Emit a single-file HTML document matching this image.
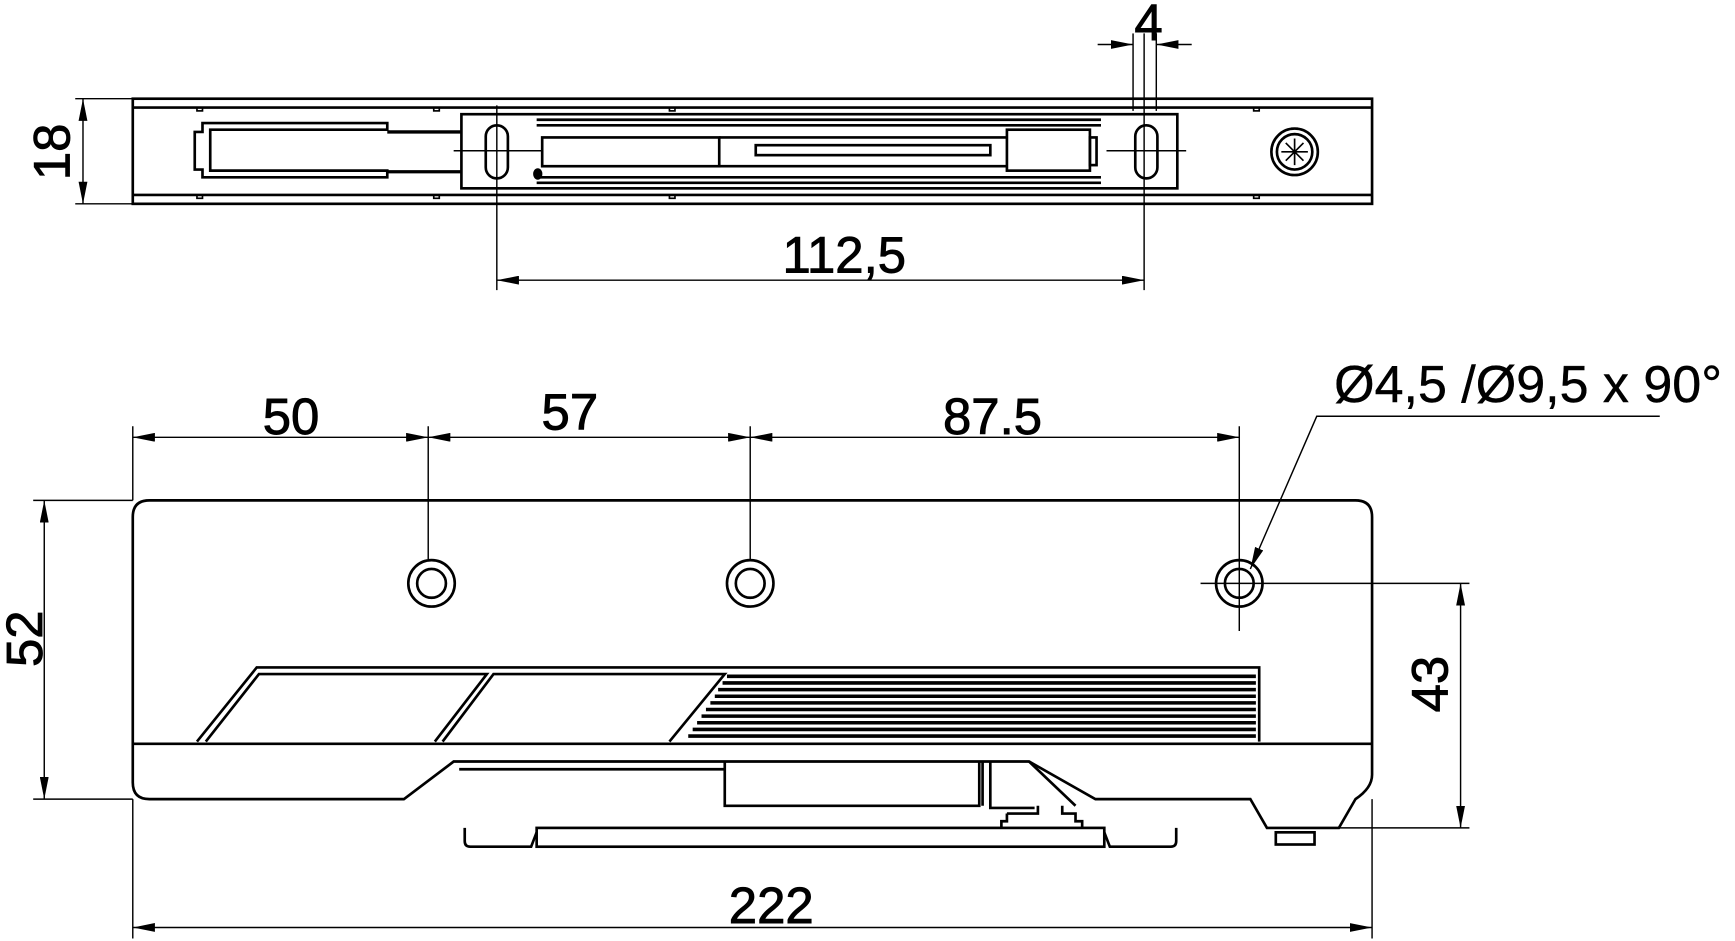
<!DOCTYPE html>
<html><head><meta charset="utf-8"><style>html,body{margin:0;padding:0;background:#fff}svg{display:block}</style></head>
<body>
<svg width="1735" height="941" viewBox="0 0 1568 850" xmlns="http://www.w3.org/2000/svg" font-family="Liberation Sans, sans-serif" fill="none" stroke="#000">
<defs>
<marker id="a" viewBox="0 0 20 8" refX="20" refY="4" markerWidth="20" markerHeight="8" orient="auto-start-reverse" markerUnits="userSpaceOnUse"><path d="M0,0 L20,4 L0,8 z" fill="#000" stroke="none"/></marker>
</defs>
<g stroke-width="2.4">
<!-- TOP VIEW -->
<rect x="120" y="89" width="1120" height="95"/>
<line x1="120" y1="97" x2="1240" y2="97"/><line x1="120" y1="176" x2="1240" y2="176"/>
<g stroke-width="1.5">
<rect x="178" y="97" width="5" height="3"/><rect x="392" y="97" width="5" height="3"/><rect x="605" y="97" width="5" height="3"/><rect x="1133" y="97" width="5" height="3"/>
<rect x="178" y="176" width="5" height="3"/><rect x="392" y="176" width="5" height="3"/><rect x="605" y="176" width="5" height="3"/><rect x="1133" y="176" width="5" height="3"/>
</g>
<path d="M183,111 H350 V117 H190 V154 H350 V160 H183 V153 H176 V119 H183 Z"/>
<line x1="350" y1="119" x2="417" y2="119" stroke-width="3"/><line x1="350" y1="155" x2="417" y2="155" stroke-width="3"/>
<rect x="417" y="103" width="647" height="67"/>
<path d="M485,108 H995 M485,113 H995 M485,165 H995 M485,160 H995"/>
<rect x="490" y="124" width="160" height="26"/><line x1="650" y1="124" x2="910" y2="124"/><line x1="650" y1="150" x2="910" y2="150"/>
<rect x="683" y="131" width="212" height="9"/>
<rect x="910" y="117" width="75" height="37"/><rect x="985" y="124" width="6" height="25"/>
<rect x="439" y="113" width="20" height="48" rx="10"/><rect x="1026" y="113" width="20" height="48" rx="10"/>
<ellipse cx="486" cy="157" rx="3" ry="4" fill="#000"/>
<circle cx="1170" cy="137" r="21"/><circle cx="1170" cy="137" r="16"/>
<path d="M1170,125 V149 M1158,137 H1182 M1162,129 L1178,145 M1178,129 L1162,145" stroke-width="1.5"/>
<g stroke-width="1.3">
<line x1="410" y1="136" x2="490" y2="136"/><line x1="1000" y1="136" x2="1072" y2="136"/>
<line x1="449" y1="95" x2="449" y2="262"/><line x1="1034" y1="30" x2="1034" y2="262"/>
<line x1="1024" y1="30" x2="1024" y2="100"/><line x1="1045" y1="30" x2="1045" y2="100"/>
<line x1="992" y1="40" x2="1024" y2="40" marker-end="url(#a)"/><line x1="1077" y1="40" x2="1045" y2="40" marker-end="url(#a)"/>
<line x1="449" y1="253" x2="1034" y2="253" marker-start="url(#a)" marker-end="url(#a)"/>
<line x1="68" y1="89" x2="120" y2="89"/><line x1="68" y1="184" x2="120" y2="184"/>
<line x1="75" y1="89" x2="75" y2="184" marker-start="url(#a)" marker-end="url(#a)"/>
</g>
<!-- BOTTOM VIEW -->
<path d="M135,452 H1225 Q1240,452 1240,467 V700 Q1240,712 1225,722 L1210,748 H1145 L1130,722 H990 L930,688 H410 L365,722 H135 Q120,722 120,707 V467 Q120,452 135,452 Z"/>
<line x1="120" y1="672" x2="1240" y2="672"/>
<path d="M415,695 H655 M655,688 V728 H885 V688 M888,688 V728 M895,688 V730 H935 M930,688 L972,728"/>
<path d="M910,735 H938 V728 M960,728 V735 H972 V742 H978 V748 M910,735 V742 H905 V748"/>
<rect x="485" y="748" width="513" height="17"/>
<path d="M420,748 V760 Q420,765 425,765 H480 L485,752 M998,752 L1003,765 H1058 Q1063,765 1063,760 V748"/>
<rect x="1153" y="752" width="35" height="11"/>
<!-- stripes -->
<path d="M178,670 L232,603 H1138 V670"/>
<path d="M186,670 L234,609 H440 L393,670 M400,670 L446,609 H655 L605,670"/>
<g stroke-width="3.2">
<path d="M657,611H1135M653,617H1135M649,623H1135M646,629H1135M642,635H1135M638,641H1135M634,647H1135M630,653H1135M626,659H1135M622,665H1135"/>
</g>
<circle cx="390" cy="527" r="21"/><circle cx="390" cy="527" r="13"/>
<circle cx="678" cy="527" r="21"/><circle cx="678" cy="527" r="13"/>
<circle cx="1120" cy="527" r="21"/><circle cx="1120" cy="527" r="13"/>
<g stroke-width="1.3">
<line x1="120" y1="385" x2="120" y2="452"/>
<line x1="387" y1="385" x2="387" y2="505"/><line x1="678" y1="385" x2="678" y2="505"/><line x1="1120" y1="385" x2="1120" y2="570"/>
<line x1="1085" y1="527" x2="1328" y2="527"/><line x1="1190" y1="748" x2="1328" y2="748"/>
<line x1="120" y1="395" x2="387" y2="395" marker-start="url(#a)" marker-end="url(#a)"/>
<line x1="387" y1="395" x2="678" y2="395" marker-start="url(#a)" marker-end="url(#a)"/>
<line x1="678" y1="395" x2="1120" y2="395" marker-start="url(#a)" marker-end="url(#a)"/>
<path d="M1500,376 H1190 L1130,514" marker-end="url(#a)"/>
<line x1="30" y1="452" x2="120" y2="452"/><line x1="30" y1="722" x2="120" y2="722"/>
<line x1="40" y1="452" x2="40" y2="722" marker-start="url(#a)" marker-end="url(#a)"/>
<line x1="1320" y1="527" x2="1320" y2="748" marker-start="url(#a)" marker-end="url(#a)"/>
<line x1="120" y1="722" x2="120" y2="848"/><line x1="1240" y1="722" x2="1240" y2="848"/>
<line x1="120" y1="838" x2="1240" y2="838" marker-start="url(#a)" marker-end="url(#a)"/>
</g>
</g>
<g fill="#000" stroke="#000" stroke-width="0.8" font-size="46" text-anchor="middle">
<text x="1038" y="36">4</text>
<text x="763" y="246">112,5</text>
<text x="63" y="137" transform="rotate(-90 63 137)">18</text>
<text x="263" y="392">50</text>
<text x="515" y="388">57</text>
<text x="897" y="392">87.5</text>
<text x="1381" y="363" font-size="47" stroke-width="0.4">Ø4,5 /Ø9,5 x 90°</text>
<text x="38" y="577" transform="rotate(-90 38 577)">52</text>
<text x="1308" y="618" transform="rotate(-90 1308 618)">43</text>
<text x="697" y="834">222</text>
</g>
</svg>
</body></html>
